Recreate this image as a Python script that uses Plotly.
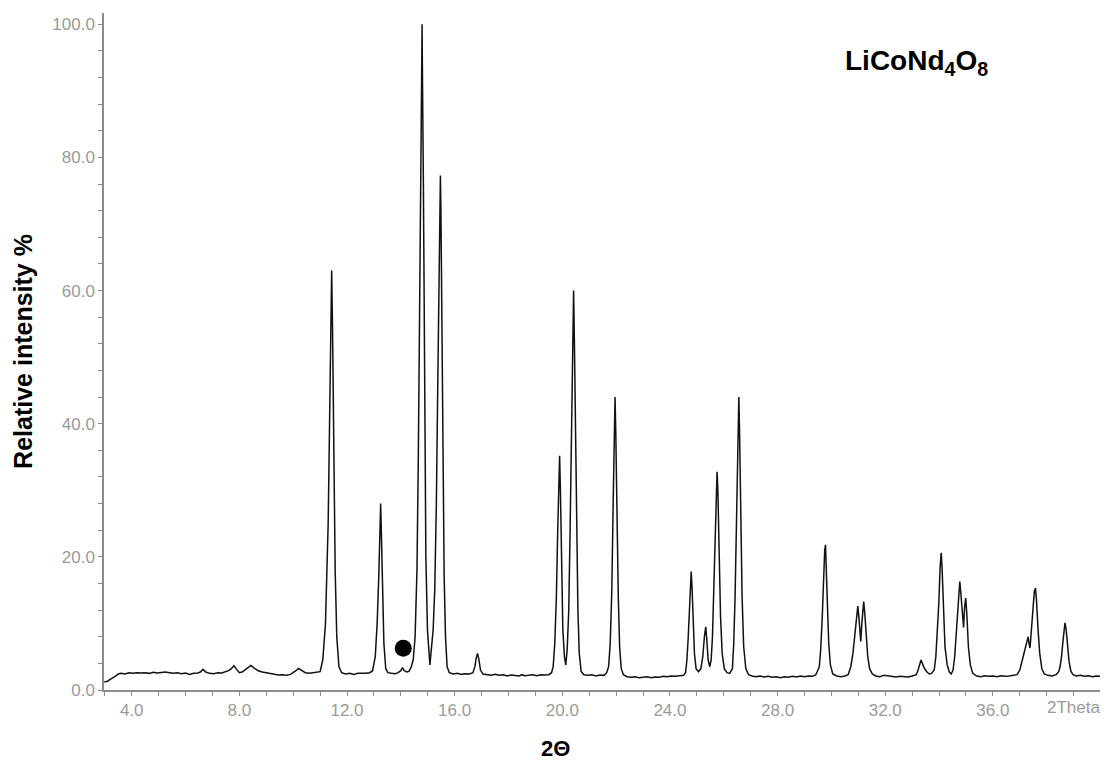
import plotly.graph_objects as go

# ---- traced XRD pattern (2theta in degrees, relative intensity %) ----
two_theta = [
    2.98, 3.1, 3.2, 3.3, 3.4, 3.5, 3.6, 3.75, 3.9, 4.05, 4.2, 4.35, 4.5, 4.65, 4.8, 4.95,
    5.1, 5.25, 5.4, 5.55, 5.7, 5.85, 6.0, 6.15, 6.3, 6.45, 6.55, 6.65, 6.75, 6.9, 7.05,
    7.2, 7.35, 7.5, 7.6, 7.7, 7.8, 7.9, 8.0, 8.1, 8.2, 8.3, 8.43, 8.55, 8.7, 8.85, 9.0,
    9.15, 9.3, 9.45, 9.6, 9.75, 9.9, 10.0, 10.1, 10.2, 10.3, 10.45, 10.6, 10.75, 10.9, 11.0,
    11.1, 11.2, 11.3, 11.36, 11.4, 11.43, 11.46, 11.51, 11.56, 11.62, 11.7, 11.8,
    11.95, 12.1, 12.25, 12.4, 12.55, 12.7, 12.85, 12.95,
    13.05, 13.12, 13.18, 13.22, 13.25, 13.28, 13.32, 13.37, 13.44, 13.52,
    13.65, 13.8, 13.9, 14.0, 14.06, 14.12, 14.22, 14.3, 14.38,
    14.46, 14.53, 14.6, 14.65, 14.7, 14.75, 14.78, 14.79, 14.8, 14.84, 14.88, 14.93, 14.99, 15.04, 15.08,
    15.13, 15.2, 15.26, 15.32, 15.37, 15.42, 15.46, 15.47, 15.49, 15.53, 15.57, 15.61, 15.66, 15.72, 15.8,
    15.95, 16.1, 16.25, 16.4, 16.55, 16.68,
    16.75, 16.8, 16.85, 16.9, 16.96, 17.05,
    17.2, 17.35, 17.5, 17.65, 17.8, 17.95, 18.1, 18.25, 18.4, 18.5, 18.6, 18.75, 18.9, 19.05,
    19.2, 19.35, 19.5, 19.6,
    19.66, 19.72, 19.78, 19.83, 19.87, 19.9, 19.93, 19.97, 20.02, 20.08, 20.13,
    20.18, 20.24, 20.29, 20.33, 20.38, 20.42, 20.45, 20.49, 20.53, 20.58, 20.63, 20.7, 20.8,
    20.95, 21.1, 21.25, 21.4, 21.55, 21.65,
    21.72, 21.78, 21.84, 21.89, 21.93, 21.96, 21.99, 22.03, 22.08, 22.13, 22.19, 22.27,
    22.4, 22.55, 22.7, 22.85, 23.0, 23.15, 23.3, 23.45, 23.6, 23.75, 23.9, 24.05, 24.2, 24.35, 24.5, 24.58,
    24.63, 24.68, 24.73, 24.77, 24.79, 24.82, 24.86, 24.91, 24.97, 25.06,
    25.15, 25.22, 25.28, 25.33, 25.37, 25.42, 25.48,
    25.53, 25.58, 25.63, 25.68, 25.72, 25.75, 25.78, 25.83, 25.88, 25.94, 26.02, 26.12, 26.22,
    26.32, 26.37, 26.42, 26.47, 26.52, 26.56, 26.59, 26.63, 26.68, 26.74, 26.82, 26.92,
    27.05, 27.2, 27.35, 27.5, 27.65, 27.8, 27.95, 28.1, 28.25, 28.4, 28.55, 28.7, 28.85, 29.0,
    29.15, 29.3, 29.42,
    29.55, 29.6, 29.66, 29.71, 29.75, 29.78, 29.81, 29.85, 29.9, 29.96, 30.05,
    30.2, 30.35, 30.5, 30.62,
    30.72, 30.8, 30.87, 30.93, 30.98, 31.02, 31.06, 31.09, 31.13, 31.17, 31.2, 31.24, 31.29, 31.35, 31.42, 31.52,
    31.65, 31.8, 31.95, 32.1, 32.25, 32.4, 32.55, 32.7, 32.85, 33.0, 33.15,
    33.22, 33.28, 33.33, 33.38, 33.45, 33.55, 33.64, 33.72,
    33.82, 33.88, 33.94, 33.99, 34.04, 34.08, 34.11, 34.16, 34.22, 34.3, 34.38, 34.45,
    34.52, 34.58, 34.64, 34.7, 34.74, 34.77, 34.81, 34.87, 34.91, 34.95, 34.99, 35.03, 35.09, 35.16, 35.25,
    35.4, 35.55, 35.7, 35.85, 36.0, 36.15, 36.3, 36.45, 36.6, 36.75, 36.9, 37.0,
    37.08, 37.13, 37.2, 37.26, 37.31, 37.35, 37.38, 37.43, 37.48, 37.54, 37.58, 37.62, 37.68, 37.74, 37.82, 37.91,
    38.05, 38.2, 38.35, 38.45,
    38.5, 38.55, 38.6, 38.65, 38.68, 38.72, 38.77, 38.83, 38.9, 38.98,
    39.1, 39.25, 39.4, 39.55, 39.7, 39.85, 39.98,
]
intensity = [
    1.2, 1.3, 1.6, 1.8, 2.1, 2.4, 2.5, 2.4, 2.6, 2.5, 2.6, 2.55, 2.6, 2.5, 2.65, 2.55,
    2.6, 2.7, 2.6, 2.5, 2.6, 2.45, 2.55, 2.35, 2.5, 2.55, 2.7, 3.1, 2.7, 2.5, 2.45,
    2.6, 2.55, 2.7, 2.9, 3.2, 3.65, 3.1, 2.6, 2.7, 3.0, 3.4, 3.7, 3.3, 2.9, 2.7, 2.6,
    2.5, 2.35, 2.25, 2.3, 2.2, 2.35, 2.6, 2.9, 3.25, 3.0, 2.6, 2.5, 2.6, 2.6, 2.75,
    4.5, 10, 25, 40, 55, 63.0, 55, 35, 18, 8, 3.5, 2.6,
    2.4, 2.5, 2.35, 2.5, 2.45, 2.5, 2.6, 2.9,
    5, 10, 17, 24, 28.0, 23, 15, 7, 3.2, 2.6,
    2.5, 2.45, 2.6, 2.9, 3.35, 2.95, 2.7, 2.8, 3.4,
    4.5, 8, 18, 35, 55, 80, 95, 100, 94, 75, 45, 20, 9, 5, 3.75,
    6, 9, 15, 28, 45, 65, 75, 77.3, 72, 52, 35, 17, 8, 3.5, 2.6,
    2.4, 2.5, 2.35, 2.45, 2.4, 2.6,
    3.5, 4.8, 5.5, 4.6, 3.0, 2.4,
    2.3, 2.2, 2.35, 2.2, 2.3, 2.1, 2.25, 2.2, 2.1, 2.3, 2.15, 2.2, 2.3, 2.15,
    2.3, 2.25, 2.3, 2.6,
    3.5, 7, 14, 24, 32, 35.2, 30, 18, 9, 5, 3.75,
    6, 12, 24, 38, 52, 60.0, 52, 38, 24, 12, 5.5, 2.8, 2.3,
    2.2, 2.3, 2.1, 2.25, 2.2, 2.6,
    3.5, 7, 15, 28, 39, 44.0, 38, 26, 14, 6.5, 3.2, 2.3,
    2.0, 1.9, 2.0, 1.85, 1.9, 2.0, 1.85, 1.95, 1.9, 2.05, 2.0, 2.1, 2.05, 2.1, 2.2, 2.6,
    4.5, 8, 13, 17, 17.8, 15.5, 10, 5.5, 3.2, 2.75,
    3.2, 5, 8, 9.5, 7.5, 4.5, 3.5,
    4.5, 8, 15, 24, 31, 32.8, 30, 20, 11, 5.5, 3.2, 2.6, 2.5,
    3.2, 7, 14, 26, 38, 44.0, 38, 26, 14, 6.5, 3.2, 2.3,
    2.1, 2.0, 2.1, 1.95, 2.05, 1.9, 2.0, 1.85, 2.0, 1.9, 2.05, 1.95, 2.1, 2.0,
    2.1, 2.05, 2.3,
    3.5, 6, 11, 17, 21, 21.8, 19, 13, 7, 3.8, 2.4,
    2.1, 2.0, 2.1, 2.3,
    3.5, 5.5, 8.5, 11.5, 12.6, 11, 8.5, 7.3, 10, 12.5, 13.3, 11.5, 8, 5, 3.2, 2.4,
    2.1, 2.0, 2.2, 2.1, 2.0, 1.95, 2.05, 2.0, 1.95, 2.1, 2.3,
    3.0, 4.0, 4.5, 4.0, 3.3, 2.7, 2.4, 2.5,
    3.0, 5, 8.5, 13, 18.5, 20.6, 18.5, 12, 6.5, 3.8, 2.7, 2.4,
    3.0, 5, 8.5, 13, 15.5, 16.3, 14.5, 10.5, 9.4, 12.5, 13.8, 11.5, 6.5, 3.8, 2.5,
    2.1, 2.0, 2.15, 2.05, 2.1, 2.0, 2.15, 2.05, 2.1, 2.2, 2.3, 3.0,
    4.3, 4.9, 5.8, 7.2, 8.0, 6.8, 6.3, 9, 12.5, 14.8, 15.3, 13.5, 9, 5.5, 3.2, 2.4,
    2.2, 2.1, 2.3, 2.8,
    3.6, 5, 7.2, 9.5, 10.1, 9.2, 6.8, 4.3, 2.8, 2.3,
    2.1, 2.2, 2.05, 2.15, 2.0, 2.1, 2.05,
]

marker_x = [14.09]
marker_y = [6.26]
x_end_label = "2Theta"
x_end_label_pos = 39.0
compound_label = "<b>LiCoNd<sub>4</sub>O<sub>8</sub></b>"
x_title = "<b>2Θ</b>"
y_title = "<b>Relative intensity %</b>"

tick_font = dict(family="Liberation Sans, Arial, sans-serif", size=17, color="#9a9a9a")
axis_col = "#8c8c8c"

fig = go.Figure()
fig.add_trace(go.Scatter(x=two_theta, y=intensity, mode="lines",
                         line=dict(color="#111111", width=1.5), showlegend=False))
fig.add_trace(go.Scatter(x=marker_x, y=marker_y, mode="markers",
                         marker=dict(color="black", size=17), showlegend=False))

fig.update_layout(
    width=1104, height=762,
    margin=dict(l=104, r=4, t=13, b=72),
    paper_bgcolor="white", plot_bgcolor="white",
    font=dict(family="Liberation Sans, Arial, sans-serif"),
)
fig.update_xaxes(
    range=[2.97, 39.98], showgrid=False, zeroline=False,
    showline=True, linecolor=axis_col, linewidth=1.5,
    tickmode="linear", tick0=0, dtick=4, tickformat=".1f",
    ticks="outside", ticklen=4, tickcolor=axis_col, tickfont=tick_font,
    minor=dict(dtick=1, tick0=0, ticks="outside", ticklen=4, tickcolor=axis_col),
)
fig.update_yaxes(
    range=[0, 101.7], showgrid=False, zeroline=False,
    showline=True, linecolor=axis_col, linewidth=1.5,
    tickmode="linear", tick0=0, dtick=20, tickformat=".1f",
    ticks="outside", ticklen=4, tickcolor=axis_col, tickfont=tick_font,
    minor=dict(dtick=4, tick0=0, ticks="outside", ticklen=4, tickcolor=axis_col),
    title=dict(text=y_title, font=dict(size=25, color="black"), standoff=13),
)
fig.add_annotation(x=x_end_label_pos, xref="x", y=0, yref="paper", yanchor="top",
                   yshift=-6, text=x_end_label, showarrow=False, font=tick_font)
fig.add_annotation(x=(916 - 104) / 996, xref="paper", xanchor="center",
                   y=(690 - 63) / 677, yref="paper", yanchor="middle",
                   text=compound_label, showarrow=False,
                   font=dict(size=28, color="black"))
fig.add_annotation(x=(555 - 104) / 996, xref="paper", xanchor="center",
                   y=(690 - 748) / 677, yref="paper", yanchor="middle",
                   text=x_title, showarrow=False,
                   font=dict(size=22, color="black"))

fig.write_html("out.html")
